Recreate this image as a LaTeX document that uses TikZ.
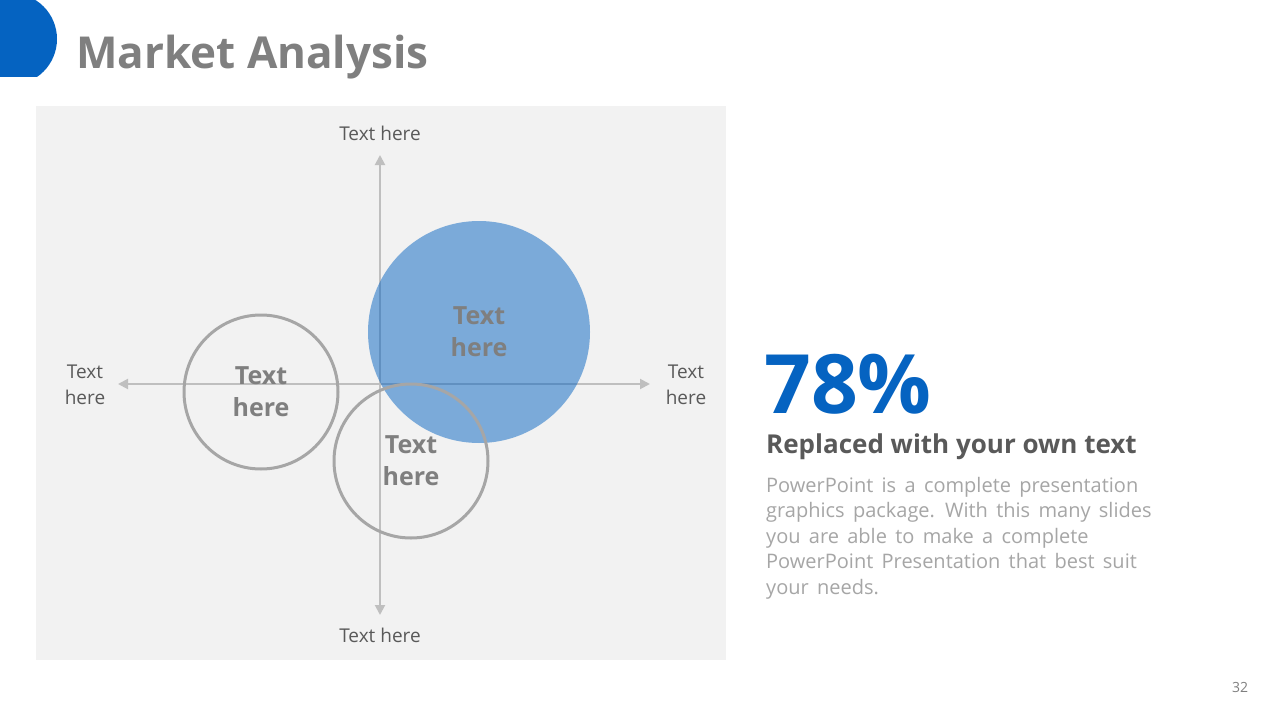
\documentclass[tikz,border=0pt]{standalone}
\usepackage{fontspec}
\setmainfont{Open Sans}
\newfontfamily\parafont[WordSpace=1.6]{Open Sans}
\usetikzlibrary{arrows.meta}
\definecolor{brandblue}{HTML}{0563C1}
\definecolor{panelgray}{HTML}{F2F2F2}
\definecolor{axisgray}{HTML}{BFBFBF}
\definecolor{ringgray}{HTML}{A6A6A6}
\definecolor{titlegray}{HTML}{7F7F7F}
\definecolor{darkgray}{HTML}{595959}
\definecolor{paragray}{HTML}{A6A6A6}
\tikzset{
  axisline/.style={draw=axisgray, line width=2pt, {Triangle[length=10pt,width=10pt]}-{Triangle[length=10pt,width=10pt]}},
  ring/.style={circle, draw=ringgray, line width=3pt, minimum size=154pt, inner sep=0pt,
    align=center, text=titlegray, font=\fontsize{25}{32}\selectfont\bfseries},
  bluecircle/.style={circle, fill=brandblue, fill opacity=0.5, text opacity=1, minimum size=222pt, inner sep=0pt,
    align=center, text=titlegray, font=\fontsize{25}{32}\selectfont\bfseries},
  axislabel/.style={align=center, text=darkgray, font=\fontsize{19}{26}\selectfont, inner sep=0pt},
}
\begin{document}
\begin{tikzpicture}[x=1pt,y=-1pt]
\useasboundingbox (0,0) rectangle (1280,720);
\fill[white] (0,0) rectangle (1280,720);
% corner mark
\begin{scope}
  \clip (0,0) rectangle (70,76);
  \fill[brandblue] (11,39) circle (46);
\end{scope}
% title
\node[anchor=base west, inner sep=0pt, text=titlegray, font=\fontsize{44}{54}\selectfont\bfseries] (title) at (76,68) {Market Analysis};
% panel
\fill[panelgray] (36,106) rectangle (726,660);
% axes
\coordinate (axL) at (118,384);
\coordinate (axR) at (650,384);
\coordinate (axT) at (380,155);
\coordinate (axB) at (380,615);
\draw[axisline] (axL) -- (axR);
\draw[axisline] (axB) -- (axT);
% axis labels
\node[axislabel] (lblT) at (380,133) {Text here};
\node[axislabel] (lblB) at (380,635) {Text here};
\node[axislabel] (lblL) at (85,385) {Text\\here};
\node[axislabel] (lblR) at (686,385) {Text\\here};
% circles
\node[bluecircle] (cBlue) at (479,332) {Text\\here};
\node[ring] (cLeft) at (261,392) {Text\\here};
\node[ring] (cBottom) at (411,461) {Text\\here};
% right text
\node[anchor=base west, inner sep=0pt, text=brandblue, font=\fontsize{82}{90}\selectfont\bfseries] (pct) at (764,413) {78\%};
\node[anchor=base west, inner sep=0pt, text=darkgray, font=\fontsize{26}{30}\selectfont\bfseries] (sub) at (766,453) {Replaced with your own text};
\node[anchor=base west, inner sep=0pt, align=left, text=paragray, font=\parafont\fontsize{20}{25.5}\selectfont] (para) at (766,594)
  {PowerPoint is a complete presentation\\graphics package. With this many slides\\you are able to make a complete\\PowerPoint Presentation that best suit\\your needs.};
% page number
\node[text=titlegray, font=\fontsize{14}{16}\selectfont, inner sep=0pt] (pageno) at (1240,687) {32};
\end{tikzpicture}
\end{document}
